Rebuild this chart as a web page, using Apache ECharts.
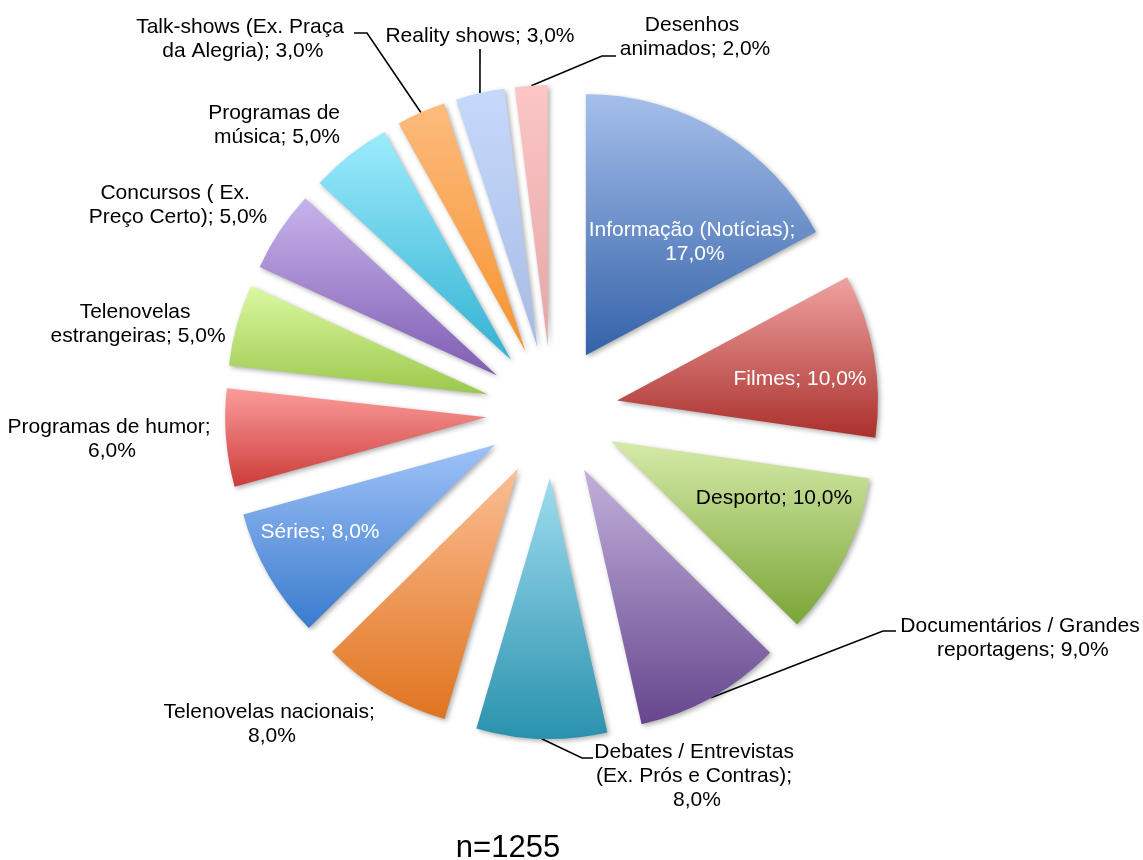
<!DOCTYPE html>
<html>
<head>
<meta charset="utf-8">
<script src="https://cdn.jsdelivr.net/npm/echarts@6/dist/echarts.min.js"></script>
<style>
  html, body { margin: 0; padding: 0; background: #ffffff; }
  #chart { width: 1143px; height: 860px; }
</style>
</head>
<body>
<div id="chart"></div>
<script>
// Audience preferences by programme genre (share of respondents, %)
const categories = [
  'Informação (Notícias)',
  'Filmes',
  'Desporto',
  'Documentários / Grandes reportagens',
  'Debates / Entrevistas (Ex. Prós e Contras)',
  'Telenovelas nacionais',
  'Séries',
  'Programas de humor',
  'Telenovelas estrangeiras',
  'Concursos ( Ex. Preço Certo)',
  'Programas de música',
  'Talk-shows (Ex. Praça da Alegria)',
  'Reality shows',
  'Desenhos animados'
];
const shares = [17, 10, 10, 9, 8, 8, 8, 6, 5, 5, 5, 3, 3, 2];
const sampleNote = 'n=1255';

// Slice fills: top and bottom colour of each vertical gradient
const gradientTop = [
  '#a5bfeb', '#eea3a1', '#d5eaa8', '#c1b0da', '#9fdcef', '#fbbe93', '#9fc2f8',
  '#fb9c9a', '#dcf8a2', '#c8b3ec', '#9cecfc', '#fcbb7d', '#c6d9fc', '#fcc6c6'
];
const gradientBottom = [
  '#3462a8', '#ab302c', '#7aa536', '#66468e', '#2a92ae', '#e0741f', '#3a7bcd',
  '#cc3c39', '#9cc84c', '#7e5db2', '#33b2d3', '#f7932e', '#a7bbe3', '#e4a6a6'
];

// Pie geometry
const CX = 552, CY = 412, RADIUS = 261, EXPLODE = 66;
const FONT = '"Liberation Sans", Arial, Helvetica, sans-serif';

// Label placement: anchor (centre of text block), wrap width, text colour,
// and for callouts the elbow and end of the leader line.
const labelPlacement = [
  { x: 692, y: 242, width: 245, color: '#ffffff' },
  { x: 800, y: 379, color: '#ffffff' },
  { x: 774, y: 498, color: '#000000' },
  { x: 1020, y: 638, width: 250, color: '#000000', leader: [[883, 631], [896, 631]] },
  { x: 697, y: 776, width: 215, color: '#000000', leader: [[582, 758], [593, 758]] },
  { x: 272, y: 724, width: 228, color: '#000000' },
  { x: 320, y: 532, color: '#ffffff' },
  { x: 112, y: 439, width: 215, color: '#000000' },
  { x: 138, y: 324, width: 188, color: '#000000' },
  { x: 178, y: 205, width: 192, color: '#000000' },
  { x: 277, y: 125, width: 142, color: '#000000' },
  { x: 240, y: 39, width: 222, color: '#000000', leader: [[367, 33], [354, 33]] },
  { x: 480, y: 36, color: '#000000', leader: [[480, 49], [480, 49]] },
  { x: 695, y: 37, width: 162, color: '#000000', leader: [[602, 56], [616, 56]] }
];

function formatShare(v) {
  return v.toFixed(1).replace('.', ',') + '%';
}

const total = shares.reduce((a, b) => a + b, 0);
const series = [];
let cumulative = 0;

shares.forEach((value, i) => {
  // Each slice is its own pie series, pulled outward along its bisector
  const mid = (cumulative + value / 2) / total * Math.PI * 2;
  cumulative += value;
  const dirX = Math.sin(mid), dirY = -Math.cos(mid);
  const cx = CX + EXPLODE * dirX;
  const cy = CY + EXPLODE * dirY;
  const anchor = [cx + RADIUS * dirX, cy + RADIUS * dirY];
  const place = labelPlacement[i];

  const data = shares.map((v, j) => {
    if (j !== i) {
      return {
        name: categories[j], value: v,
        itemStyle: { opacity: 0 },
        label: { show: false },
        labelLine: { show: false }
      };
    }
    return {
      name: categories[j], value: v,
      itemStyle: {
        color: {
          type: 'linear', x: 0, y: 0, x2: 0, y2: 1,
          colorStops: [
            { offset: 0, color: gradientTop[j] },
            { offset: 1, color: gradientBottom[j] }
          ]
        },
        shadowColor: 'rgba(0,0,0,0.32)',
        shadowBlur: 5,
        shadowOffsetX: 2,
        shadowOffsetY: 2
      },
      label: {
        show: true,
        position: 'outside',
        color: place.color,
        fontFamily: FONT,
        fontSize: 21,
        lineHeight: 24,
        align: 'center',
        width: place.width,
        overflow: place.width ? 'break' : 'none',
        formatter: (p) => p.name + '; ' + formatShare(p.value)
      },
      labelLine: {
        show: !!place.leader,
        lineStyle: { color: '#000000', width: 1.6 }
      }
    };
  });

  series.push({
    type: 'pie',
    silent: true,
    animation: false,
    startAngle: 90,
    clockwise: true,
    center: [cx, cy],
    radius: [0, RADIUS],
    avoidLabelOverlap: false,
    itemStyle: { borderWidth: 0 },
    data: data,
    labelLayout: (params) => {
      if (params.dataIndex !== i) return {};
      const out = {
        x: place.x, y: place.y,
        align: 'center', verticalAlign: 'middle'
      };
      if (place.leader) {
        out.labelLinePoints = [anchor, place.leader[0], place.leader[1]];
      }
      return out;
    }
  });
});

const chart = echarts.init(document.getElementById('chart'), null, { renderer: 'canvas' });
chart.setOption({
  backgroundColor: '#ffffff',
  animation: false,
  series: series,
  graphic: [{
    type: 'text',
    x: 508, y: 848,
    style: {
      text: sampleNote,
      fontFamily: FONT,
      fontSize: 31,
      fill: '#000000',
      textAlign: 'center',
      textVerticalAlign: 'middle'
    }
  }]
});
</script>
</body>
</html>
